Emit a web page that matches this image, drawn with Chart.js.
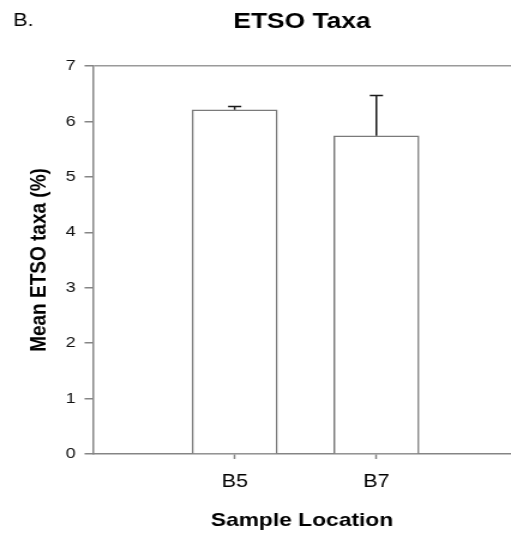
<!DOCTYPE html>
<html><head><meta charset="utf-8">
<script src="https://cdn.jsdelivr.net/npm/chart.js@4/dist/chart.umd.min.js"></script>
<style>html,body{margin:0;padding:0;background:#fff;overflow:hidden}</style>
</head><body>
<canvas id="c" width="426" height="540" style="width:511px;height:540px;display:block"></canvas>
<script>
// ---- data ----
const categories = ['B5', 'B7'];
const means = [6.21, 5.74];
const errors = [0.06, 0.73];
const yTicks = [0, 1, 2, 3, 4, 5, 6, 7];
const chartTitle = 'ETSO Taxa';
const panelLabel = 'B.';
const xTitle = 'Sample Location';
const yTitle = 'Mean ETSO taxa (%)';

const FONT = "'Liberation Sans', Arial, Helvetica, sans-serif";
const AXIS = '#858585';
const TEXT = '#000';

const errorBars = {
  id: 'errorBars',
  afterDatasetsDraw(chart) {
    const { ctx } = chart;
    const y = chart.scales.y;
    const meta = chart.getDatasetMeta(0);
    ctx.save();
    ctx.strokeStyle = '#1a1a1a';
    ctx.lineWidth = 1.5;
    meta.data.forEach((bar, i) => {
      const top = y.getPixelForValue(means[i] + errors[i]);
      const base = y.getPixelForValue(means[i]);
      ctx.beginPath();
      ctx.moveTo(bar.x, base);
      ctx.lineTo(bar.x, top);
      ctx.moveTo(bar.x - 5.5, top);
      ctx.lineTo(bar.x + 5.5, top);
      ctx.stroke();
    });
    ctx.restore();
  }
};

const panelLabelPlugin = {
  id: 'panelLabel',
  afterDraw(chart) {
    const { ctx } = chart;
    ctx.save();
    ctx.fillStyle = TEXT;
    ctx.font = '18px ' + FONT;
    ctx.textBaseline = 'middle';
    ctx.textAlign = 'left';
    ctx.fillText(panelLabel, 11, 21);
    ctx.restore();
  }
};

new Chart(document.getElementById('c'), {
  type: 'bar',
  data: {
    datasets: [{
      data: categories.map((c, i) => ({ x: i + 1, y: means[i] })),
      backgroundColor: '#ffffff',
      borderColor: '#7a7a7a',
      borderWidth: 1.5,
      barThickness: 71
    }]
  },
  options: {
    responsive: false,
    devicePixelRatio: 1,
    animation: false,
    layout: { padding: { top: 0, left: 0, right: 0, bottom: 0 } },
    plugins: {
      legend: { display: false },
      tooltip: { enabled: false },
      title: {
        display: true,
        text: chartTitle,
        fullSize: false,
        color: TEXT,
        font: { family: FONT, size: 22, weight: 'bold' },
        padding: { top: 9, bottom: 30.6 }
      }
    },
    scales: {
      x: {
        type: 'linear',
        min: 0,
        max: 2.95,
        offset: false,
        afterBuildTicks: s => { s.ticks = categories.map((c, i) => ({ value: i + 1 })); },
        afterFit: s => { s.height = 86; },
        ticks: {
          callback: v => categories[v - 1] ?? '',
          color: TEXT,
          font: { family: FONT, size: 18 },
          padding: 12,
          maxRotation: 0,
          autoSkip: false
        },
        grid: { offset: false, drawOnChartArea: false, drawTicks: true, tickLength: 5, tickColor: AXIS, tickWidth: 1.5 },
        border: { display: true, color: AXIS, width: 1.5 },
        title: {
          display: true,
          text: xTitle,
          color: TEXT,
          font: { family: FONT, size: 19, weight: 'bold' },
          padding: { top: 0, bottom: 8 }
        }
      },
      y: {
        min: 0,
        max: 7,
        afterBuildTicks: s => { s.ticks = yTicks.map(v => ({ value: v })); },
        afterFit: s => { s.width = 77.5; },
        ticks: {
          color: '#111',
          font: { family: FONT, size: 15 },
          padding: 7.5
        },
        grid: {
          drawOnChartArea: true,
          drawTicks: true,
          tickLength: 7,
          tickColor: AXIS,
          lineWidth: 1.5,
          color: c => (c.tick && c.tick.value === 7) ? '#9a9a9a' : 'rgba(0,0,0,0)'
        },
        border: { display: true, color: AXIS, width: 1.5 },
        title: {
          display: true,
          text: yTitle,
          color: TEXT,
          font: { family: FONT, size: 19, weight: 'bold' },
          padding: { top: 21, bottom: 0 }
        }
      }
    }
  },
  plugins: [errorBars, panelLabelPlugin]
});
</script>
</body></html>
